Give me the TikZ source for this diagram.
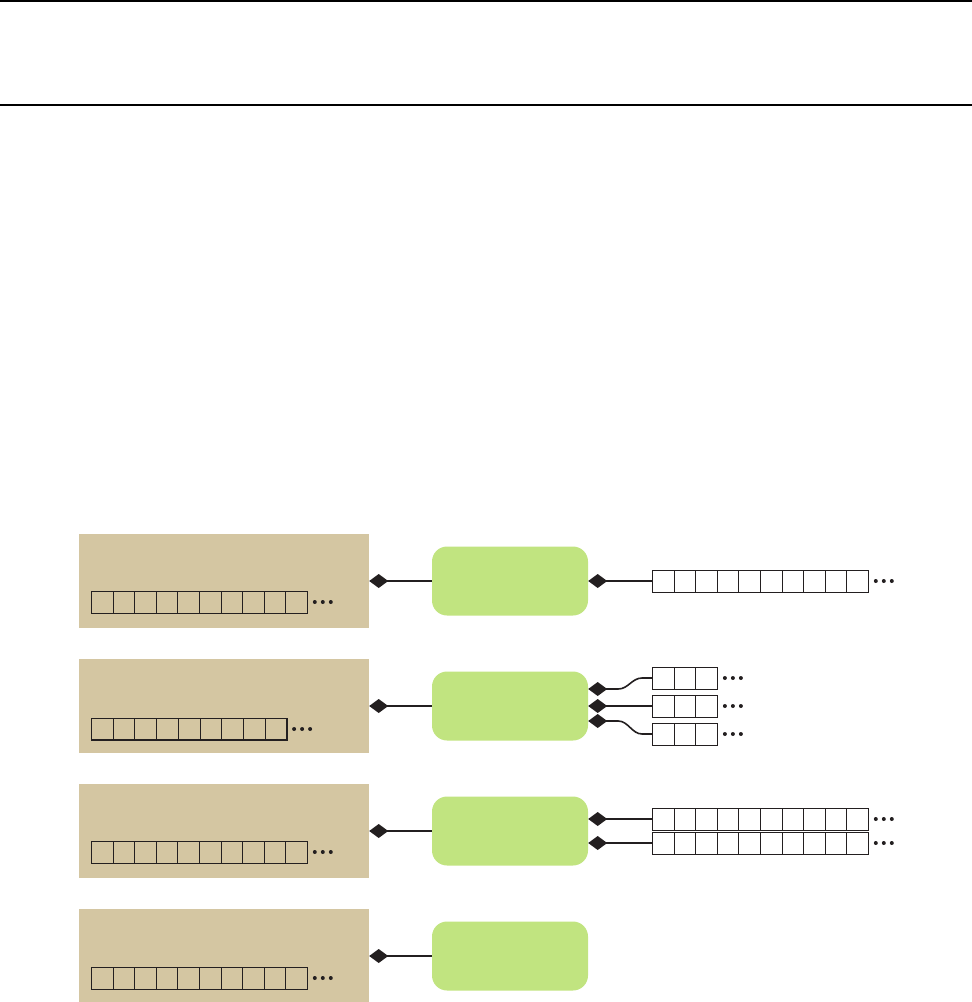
\documentclass[tikz,border=0pt]{standalone}
\usepackage{tikz}
\usetikzlibrary{arrows.meta,positioning,calc}
\definecolor{softtan}{RGB}{212,198,162}
\definecolor{softlime}{RGB}{193,228,128}
\definecolor{inkdark}{RGB}{35,31,32}
% a row of empty cells followed by three dots
\newcommand{\cellrow}[6][]{%
  \foreach \ci in {1,...,#3}{\node[cell,minimum width=#6,#1] (#2-\ci) at ({#4+(\ci-1)*#6},#5) {};}
  \foreach \dx in {7,15,23}{\fill[inkdark] ($(#2-#3.east)+(\dx,0)$) circle (2);}
}
\begin{document}
\begin{tikzpicture}[x=1pt,y=-1pt,
  membox/.style={fill=softtan,minimum width=290,minimum height=94,inner sep=0},
  procbox/.style={fill=softlime,rounded corners=15,minimum width=156,minimum height=69,inner sep=0},
  cell/.style={draw=inkdark,line width=0.8,minimum height=22,inner sep=0,anchor=west},
  link/.style={draw=inkdark,line width=1.6,{Diamond[length=19pt,width=14pt]}-}]
  \useasboundingbox (0,0) rectangle (972,1002);
  \draw[line width=2] (0,1) -- (972,1);
  \draw[line width=2] (0,104.5) -- (972,104.5);
  \foreach \r/\y in {1/581,2/706,3/831,4/956}{
    \node[membox] (src\r) at (224,\y) {};
    \node[procbox] (proc\r) at (510,\y) {};
    \draw[link] (src\r.east) -- (proc\r.west);
  }
  % cells inside the tan boxes
  \cellrow{buf1}{10}{91}{602}{21.6}
  \cellrow{buf2}{9}{91}{729}{21.7}
  \draw[line width=2,inkdark] (buf2-1.south west) -- (buf2-9.south east) -- (buf2-9.north east);
  \cellrow{buf3}{10}{91}{852}{21.6}
  \cellrow{buf4}{10}{91}{978}{21.6}
  % outputs
  \cellrow{out1}{10}{652}{581}{21.6}
  \draw[link] (proc1.east) -- (out1-1.west);
  \cellrow{out21}{3}{652}{678}{21.7}
  \cellrow{out22}{3}{652}{706}{21.7}
  \cellrow{out23}{3}{652}{734}{21.7}
  \draw[link] ([yshift=17pt]proc2.east) -- ++(30,0) .. controls +(10,0) and +(-10,0) .. ([xshift=-10pt]out21-1.west) -- (out21-1.west);
  \draw[link] (proc2.east) -- (out22-1.west);
  \draw[link] ([yshift=-15pt]proc2.east) -- ++(30,0) .. controls +(10,0) and +(-10,0) .. ([xshift=-10pt]out23-1.west) -- (out23-1.west);
  \cellrow{out31}{10}{652}{819}{21.6}
  \cellrow{out32}{10}{652}{843}{21.6}
  \draw[link] ([yshift=12pt]proc3.east) -- (out31-1.west);
  \draw[link] ([yshift=-12pt]proc3.east) -- (out32-1.west);
\end{tikzpicture}
\end{document}
